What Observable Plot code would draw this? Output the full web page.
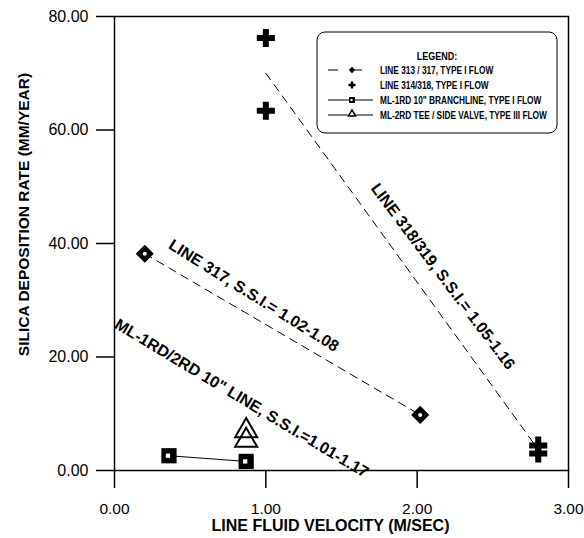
<!DOCTYPE html>
<html>
<head>
<meta charset="utf-8">
<script src="https://cdn.jsdelivr.net/npm/d3@7"></script>
<script src="https://cdn.jsdelivr.net/npm/@observablehq/plot@0.6"></script>
<style>
  html, body { margin: 0; padding: 0; background: white; }
</style>
</head>
<body>
<div id="chart"></div>
<script>
// ---- data ----
const xTicks = [0, 1, 2, 3];
const yTicks = [0, 20, 40, 60, 80];

// LINE 313 / 317 (diamonds, dashed connection)
const diamondX = [0.2, 2.02];
const diamondY = [38.2, 9.8];

// LINE 314/318 (crosses)
const crossX = [1.0, 1.0, 2.8, 2.8];
const crossY = [76.2, 63.4, 4.4, 3.0];

// trend line for LINE 318/319
const trendX = [1.0, 2.8];
const trendY = [70.0, 3.7];

// ML-1RD 10" branchline (squares)
const squareX = [0.36, 0.87];
const squareY = [2.6, 1.6];

// ML-2RD tee / side valve (triangles)
const triX = [0.87, 0.87];
const triY = [7.0, 5.3];

// rotated annotations
const noteText = [
  "LINE 318/319, S.S.I.= 1.05-1.16",
  "LINE 317, S.S.I.= 1.02-1.08",
  "ML-1RD/2RD 10\" LINE, S.S.I.=1.01-1.17"
];
const noteX = [2.17, 0.92, 0.84];
const noteY = [34.2, 30.8, 12.7];
const noteAngle = [53, 32, 31];

const legendTitle = "LEGEND:";
const legendLabels = [
  "LINE 313 / 317, TYPE I FLOW",
  "LINE 314/318, TYPE I FLOW",
  "ML-1RD 10\" BRANCHLINE, TYPE I FLOW",
  "ML-2RD TEE / SIDE VALVE, TYPE III FLOW"
];

const xTitle = "LINE FLUID VELOCITY (M/SEC)";
const yTitle = "SILICA DEPOSITION RATE (MM/YEAR)";

// ---- tables ----
const zip = (xs, ys) => xs.map((x, i) => ({x, y: ys[i]}));
const diamonds = zip(diamondX, diamondY);
const crosses = zip(crossX, crossY);
const trend = zip(trendX, trendY);
const squares = zip(squareX, squareY);
const tris = zip(triX, triY);
const notes = noteText.map((t, i) => ({text: t, x: noteX[i], y: noteY[i], a: noteAngle[i]}));

const fmt = d3.format(".2f");

const chart = Plot.plot({
  width: 584,
  height: 538,
  marginLeft: 114,
  marginRight: 16,
  marginTop: 16,
  marginBottom: 68,
  style: {fontFamily: "Arial, 'Liberation Sans', sans-serif", background: "white", color: "black"},
  x: {domain: [0, 3]},
  y: {domain: [0, 80]},
  marks: [
    Plot.axisX({ticks: xTicks, tickSize: 18, tickPadding: 14, tickFormat: fmt, fontSize: 15.5, label: null, strokeWidth: 1.5}),
    Plot.axisY({ticks: yTicks, tickSize: 18, tickPadding: 8, tickFormat: fmt, fontSize: 16, label: null, strokeWidth: 1.5}),
    Plot.frame({stroke: "black", strokeWidth: 1.5}),
    Plot.text([xTitle], {frameAnchor: "bottom", lineAnchor: "bottom", dx: -11, dy: 60, fontSize: 16, fontWeight: "bold"}),
    Plot.text([yTitle], {frameAnchor: "left", textAnchor: "middle", lineAnchor: "middle", rotate: -90, dx: -90, dy: -29, fontSize: 15.5, fontWeight: "bold"}),
    Plot.line(diamonds, {x: "x", y: "y", stroke: "black", strokeWidth: 1, strokeDasharray: "8,6"}),
    Plot.line(trend, {x: "x", y: "y", stroke: "black", strokeWidth: 1, strokeDasharray: "8,6"}),
    Plot.line(squares, {x: "x", y: "y", stroke: "black", strokeWidth: 1}),
    Plot.dot(diamonds, {x: "x", y: "y", symbol: "diamond2", r: 7.2, fill: "black", stroke: "black"}),
    Plot.dot(diamonds, {x: "x", y: "y", symbol: "circle", r: 2, fill: "white"}),
    Plot.dot(crosses, {x: "x", y: "y", symbol: "cross", r: 7.6, fill: "black"}),
    Plot.dot(squares, {x: "x", y: "y", symbol: "square", r: 8.6, fill: "black"}),
    Plot.dot(squares, {x: "x", y: "y", symbol: "square", r: 2.4, fill: "white", dx: -1}),
    Plot.dot(tris, {x: "x", y: "y", symbol: "triangle", r: 8.2, fill: "none", stroke: "black", strokeWidth: 2}),
    Plot.text(notes, {x: "x", y: "y", text: "text", rotate: "a", fontSize: 16, fontWeight: "bold"})
  ]
});

document.getElementById("chart").appendChild(chart);

// ---- legend box (drawn inside the plot area) ----
const svg = d3.select(chart);
const font = "Arial, 'Liberation Sans', sans-serif";
const lg = svg.append("g").attr("transform", "translate(317,32)");
lg.append("rect").attr("x", 0).attr("y", 0).attr("width", 240).attr("height", 101)
  .attr("rx", 8).attr("fill", "white").attr("stroke", "black").attr("stroke-width", 1);
lg.append("text").attr("transform", "translate(120,28) scale(0.86,1)").attr("text-anchor", "middle")
  .attr("font-family", font).attr("fill", "black")
  .attr("font-size", 10.5).attr("font-weight", "bold").text(legendTitle);
const rowY = [38, 53, 68, 83];
const symX = 35;
legendLabels.forEach((lab, i) => {
  const g = lg.append("g").attr("transform", `translate(0,${rowY[i]})`);
  if (i === 0) {
    g.append("line").attr("x1", 11).attr("x2", 56).attr("stroke", "black").attr("stroke-width", 1)
      .attr("stroke-dasharray", "10,14");
    g.append("path").attr("d", d3.symbol(d3.symbolDiamond2, 26)()).attr("transform", `translate(${symX},0)`).attr("fill", "black");
  } else if (i === 1) {
    g.append("path").attr("d", d3.symbol(d3.symbolCross, 28)()).attr("transform", `translate(${symX},0)`).attr("fill", "black");
    g.append("path").attr("d", d3.symbol(d3.symbolDiamond2, 14)()).attr("transform", `translate(${symX},0)`).attr("fill", "black");
  } else if (i === 2) {
    g.append("line").attr("x1", 11).attr("x2", 56).attr("stroke", "black").attr("stroke-width", 1);
    g.append("rect").attr("x", symX - 3).attr("y", -3).attr("width", 6).attr("height", 6).attr("fill", "black");
    g.append("rect").attr("x", symX - 1.5).attr("y", -1).attr("width", 2).attr("height", 2).attr("fill", "white");
  } else {
    g.append("line").attr("x1", 11).attr("x2", 56).attr("stroke", "black").attr("stroke-width", 1);
    g.append("path").attr("d", d3.symbol(d3.symbolTriangle, 22)()).attr("transform", `translate(${symX},-1)`)
      .attr("fill", "white").attr("stroke", "black").attr("stroke-width", 1.4);
  }
  g.append("text").attr("transform", "translate(63,0) scale(0.83,1)").attr("dy", "0.35em").attr("text-anchor", "start")
    .attr("font-family", font).attr("fill", "black")
    .attr("font-size", 10).attr("font-weight", "bold").text(lab);
});
</script>
</body>
</html>
